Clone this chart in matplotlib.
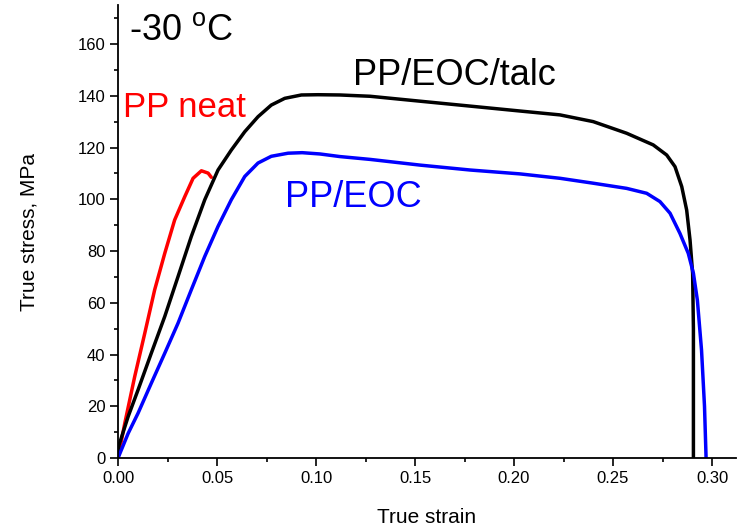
import matplotlib
matplotlib.use("Agg")
import matplotlib.pyplot as plt
from matplotlib.ticker import MultipleLocator

plt.rcParams['font.family'] = ['Liberation Sans', 'DejaVu Sans']
plt.rcParams['mathtext.fontset'] = 'custom'
plt.rcParams['mathtext.rm'] = 'Liberation Sans'

# PP neat (red)
red_strain = [0, 0.0034, 0.0084, 0.0135, 0.0185, 0.0236, 0.0286, 0.0337, 0.0379, 0.0421,
              0.0455, 0.0471]
red_stress = [0, 13.4, 31.4, 48.2, 65, 79.1, 92, 101, 108.1, 111,
              110.1, 108.5]

# PP/EOC/talc (black)
black_strain = [0, 0.0005, 0.0051, 0.0101, 0.0168, 0.0236, 0.0303, 0.037, 0.0438, 0.0505,
                0.0572, 0.064, 0.0707, 0.0774, 0.0842, 0.0926, 0.101, 0.112, 0.1273, 0.1525,
                0.1778, 0.203, 0.2232, 0.240, 0.2569, 0.2703, 0.2771, 0.2813, 0.2847, 0.2872,
                0.2889, 0.2902, 0.2906, 0.2906]
black_stress = [0, 5, 16, 26.3, 40.5, 54.7, 70.1, 85.6, 99.8, 111.3,
                119, 126.1, 131.9, 136.4, 139, 140.3, 140.4, 140.3, 139.8, 137.9,
                136, 134.1, 132.6, 130, 125.5, 121, 117.1, 112.6, 104.9, 95.8,
                84.2, 71.4, 50, 0]

# PP/EOC (blue)
blue_strain = [0, 0.0051, 0.0101, 0.0168, 0.0236, 0.0303, 0.037, 0.0438, 0.0505, 0.0572,
               0.064, 0.0707, 0.0774, 0.0859, 0.093, 0.102, 0.112, 0.1273, 0.1525, 0.1778,
               0.203, 0.2232, 0.240, 0.2569, 0.267, 0.2737, 0.2788, 0.2838, 0.288, 0.2906,
               0.2926, 0.2947, 0.2962, 0.297]
blue_stress = [0, 9.5, 17.3, 28.9, 40.5, 52.1, 65, 77.9, 89.5, 99.8,
               108.8, 114, 116.6, 117.8, 118, 117.5, 116.5, 115.4, 113.2, 111.3,
               109.8, 108.1, 106.2, 104.2, 102.3, 99.1, 94.6, 86.8, 79.1, 71.4,
               61, 41.7, 20, 0]

fig = plt.figure(figsize=(7.4, 5.29), dpi=100)
ax = fig.add_axes([0.1595, 0.1342, 0.8348, 0.856])

kw = dict(lw=2.5, solid_joinstyle='round', solid_capstyle='round')
ax.plot(red_strain, red_stress, color='#ff0000', **kw)
ax.plot(black_strain, black_stress, color='black', **kw)
ax.plot(blue_strain, blue_stress, color='#0000ff', **kw)

ax.set_xlim(0, 0.312)
ax.set_ylim(0, 175)
ax.xaxis.set_major_locator(MultipleLocator(0.05))
ax.xaxis.set_minor_locator(MultipleLocator(0.025))
ax.yaxis.set_major_locator(MultipleLocator(20))
ax.yaxis.set_minor_locator(MultipleLocator(10))
ax.xaxis.set_major_formatter(matplotlib.ticker.FormatStrFormatter('%.2f'))

for s in ['top', 'right']:
    ax.spines[s].set_visible(False)
for s in ['left', 'bottom']:
    ax.spines[s].set_linewidth(1.3)
ax.tick_params(which='major', direction='out', length=6, width=1.2, labelsize=12, pad=3)
ax.tick_params(which='minor', direction='out', length=3, width=1.2)

ax.set_xlabel('True strain', fontsize=15, labelpad=16)
ax.set_ylabel('True stress, MPa', fontsize=15, labelpad=28)

ax.text(0.0056, 161.5, r'-30 $^{\rm o}$C', fontsize=26, va='baseline')
ax.text(0.1187, 144.2, 'PP/EOC/talc', fontsize=26, va='baseline', color='black')
ax.text(0.0843, 97.1, 'PP/EOC', fontsize=26, va='baseline', color='#0000ff')
ax.text(0.0025, 131.8, 'PP neat', fontsize=25, va='baseline', color='#ff0000')

fig.savefig('out.png', dpi=100)
